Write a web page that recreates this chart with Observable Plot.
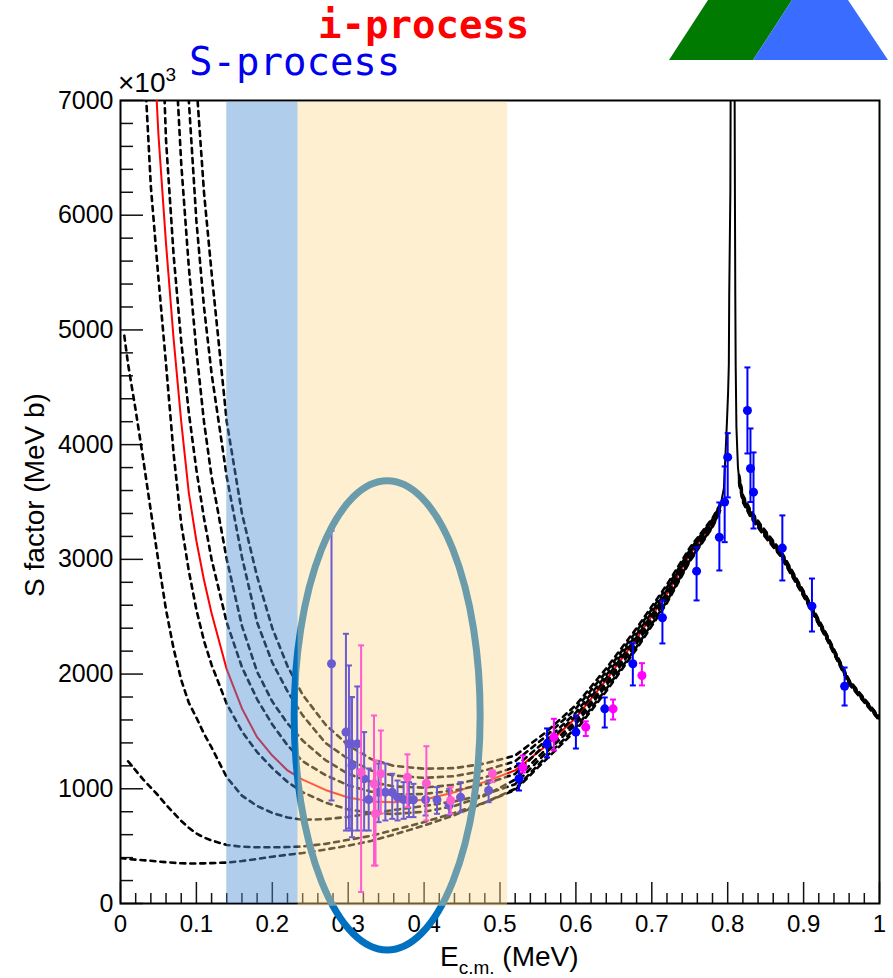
<!DOCTYPE html>
<html>
<head>
<meta charset="utf-8">
<script src="https://cdn.jsdelivr.net/npm/d3@7"></script>
<script src="https://cdn.jsdelivr.net/npm/@observablehq/plot@0.6"></script>
<style>
  body { margin: 0; background: #fff; }
  #chart svg { display: block; }
</style>
</head>
<body>
<div id="chart"></div>
<script>
// ---------- axis ticks ----------
const xMajor = [0, 0.1, 0.2, 0.3, 0.4, 0.5, 0.6, 0.7, 0.8, 0.9, 1];
const xMinor = [0.02,0.04,0.06,0.08,0.12,0.14,0.16,0.18,0.22,0.24,0.26,0.28,0.32,0.34,0.36,0.38,0.42,0.44,0.46,0.48,0.52,0.54,0.56,0.58,0.62,0.64,0.66,0.68,0.72,0.74,0.76,0.78,0.82,0.84,0.86,0.88,0.92,0.94,0.96,0.98];
const yMajor = [0, 1000, 2000, 3000, 4000, 5000, 6000, 7000];
const yMinor = [200,400,600,800,1200,1400,1600,1800,2200,2400,2600,2800,3200,3400,3600,3800,4200,4400,4600,4800,5200,5400,5600,5800,6200,6400,6600,6800];

// ---------- energy bands (MeV) ----------
const bandNames = ["S-process", "i-process"];
const bandStart = [0.14, 0.234];
const bandEnd   = [0.234, 0.51];

// ---------- fit curves: common energy grid (MeV) and S factor (x10^3 MeV b) ----------
const grid = [0, 0.005, 0.01, 0.02, 0.03, 0.04, 0.05, 0.06, 0.07, 0.08,
  0.09, 0.10, 0.11, 0.12, 0.14, 0.16, 0.18, 0.20, 0.22, 0.24,
  0.27, 0.30, 0.33, 0.36, 0.40, 0.44, 0.48, 0.52, 0.56, 0.60,
  0.64, 0.68, 0.72, 0.75, 0.78, 0.79, 0.805, 0.815, 0.82, 0.83,
  0.845, 0.87, 0.90, 0.93, 0.96, 1.0];

const curveRed = [null, null, null, null, null, 8000, 6700, 5750, 4920, 4200,
  3580, 3160, 2820, 2530, 2040, 1700, 1450, 1290, 1160, 1080,
  990, 924, 890, 882, 905, 970, 1060, 1160, 1370, 1620,
  1950, 2310, 2700, 3040, 3320, 3450, null, 3700, 3530, 3400,
  3260, 3050, 2700, 2330, 1930, 1610];

const curveD1 = [null, null, null, 10000, 7500, 6250, 5450, 4700, 3920, 3310,
  2900, 2560, 2290, 2080, 1740, 1500, 1320, 1180, 1060, 970,
  880, 820, 790, 780, 800, 850, 940, 1080, 1340, 1592,
  1925, 2287, 2680, 3025, 3310, 3442, null, 3691, 3522, 3392,
  3253, 3044, 2694, 2325, 1925, 1606];

const curveD2 = [null, null, null, null, null, null, 8500, 6650, 5650, 4900,
  4280, 3780, 3360, 3000, 2450, 2060, 1780, 1560, 1380, 1240,
  1120, 1030, 975, 950, 955, 985, 1040, 1130, 1388, 1636,
  1965, 2323, 2712, 3049, 3326, 3454, null, 3705, 3535, 3405,
  3264, 3054, 2703, 2333, 1933, 1612];

const curveD3 = [null, null, null, null, null, null, null, null, 7700, 6450,
  5550, 4820, 4200, 3720, 3000, 2420, 2020, 1760, 1570, 1420,
  1250, 1130, 1060, 1020, 1010, 1035, 1100, 1190, 1418, 1664,
  1990, 2346, 2732, 3064, 3336, 3462, null, 3714, 3542, 3412,
  3271, 3060, 2709, 2338, 1937, 1616];

const curveD4 = [null, null, null, null, null, null, null, null, null, 8500,
  7000, 5950, 5200, 4620, 3720, 3020, 2450, 2100, 1850, 1640,
  1400, 1260, 1160, 1115, 1095, 1110, 1160, 1240, 1455, 1700,
  2020, 2375, 2755, 3080, 3350, 3470, null, 3725, 3550, 3420,
  3280, 3068, 2715, 2344, 1943, 1620];

const curveD5 = [null, null, null, null, null, null, null, null, null, null,
  8300, 7150, 6200, 5500, 4200, 3400, 2850, 2400, 2070, 1820,
  1560, 1380, 1260, 1200, 1175, 1180, 1220, 1290, 1490, 1730,
  2050, 2400, 2780, 3100, 3360, 3480, null, 3735, 3560, 3430,
  3288, 3075, 2722, 2350, 1948, 1625];

const curveA = [null, 4950, 4700, 4300, 3870, 3420, 2980, 2560, 2220, 1950,
  1750, 1620, 1480, 1360, 1100, 940, 850, 790, 750, 730,
  735, 755, 785, 815, 850, 890, 950, 1040, 1310, 1565,
  1900, 2265, 2660, 3010, 3300, 3435, null, 3682, 3515, 3385,
  3246, 3037, 2689, 2320, 1921, 1602];

const curveB = [null, null, 1240, 1160, 1080, 1010, 940, 860, 790, 720,
  660, 610, 575, 550, 510, 495, 490, 490, 492, 497,
  520, 555, 590, 640, 710, 790, 880, 990, 1250, 1510,
  1850, 2220, 2620, 2980, 3280, 3420, null, 3665, 3500, 3370,
  3232, 3025, 2678, 2310, 1912, 1595];

const curveC = [395, 392, 388, 382, 377, 372, 366, 360, 355, 351,
  349, 349, 350, 352, 357, 370, 388, 408, 425, 440,
  470, 505, 545, 600, 680, 770, 880, 1000, 1274, 1532,
  1870, 2238, 2636, 2992, 3288, 3426, null, 3672, 3506, 3376,
  3238, 3030, 2682, 2314, 1916, 1598];

// resonance near 0.806 MeV (solid line)
const resX = [0.78, 0.79, 0.795, 0.797, 0.799, 0.8005, 0.8015, 0.8020, 0.8035, 0.8045, 0.8065, 0.8085, 0.8095, 0.8100, 0.8105, 0.8115, 0.8135, 0.8160, 0.820];
const resS = [3320, 3450, 3620, 3900, 4200, 4450, 4700, 5300, 6200, 8500, 40000, 8500, 6200, 5300, 4700, 4150, 3800, 3650, 3530];

// ---------- data points ----------
const blueX  = [0.278, 0.297, 0.301, 0.304, 0.305, 0.312, 0.321, 0.327, 0.340, 0.349, 0.358, 0.365, 0.373, 0.380, 0.386, 0.402, 0.417, 0.433, 0.448, 0.485, 0.525, 0.562, 0.600, 0.638, 0.675, 0.714, 0.759, 0.789, 0.796, 0.800, 0.826, 0.830, 0.834, 0.872, 0.911, 0.954];
const blueS  = [2090, 1494, 1392, 1392, 1203, 1392, 1087, 907, 970, 970, 970, 927, 907, 904, 904, 904, 904, 855, 927, 985, 1087, 1392, 1494, 1697, 2090, 2491, 2897, 3193, 3499, 3891, 4298, 3792, 3586, 3098, 2592, 1894];
const blueLo = [898, 636, 654, 636, 578, 636, 636, 636, 709, 724, 738, 724, 738, 753, 753, 767, 782, 770, 796, 883, 985, 1273, 1351, 1534, 1901, 2267, 2642, 2903, 3150, 3540, 3923, 3500, 3269, 2816, 2371, 1726];
const blueHi = [3250, 2351, 2075, 1799, 1799, 1892, 1494, 1177, 1220, 1220, 1131, 1072, 1058, 1058, 1043, 1029, 1014, 1000, 1058, 1072, 1220, 1526, 1639, 1796, 2267, 2642, 3104, 3496, 3810, 4100, 4673, 4141, 3932, 3383, 2833, 2057];

const magX  = [0.317, 0.334, 0.336, 0.343, 0.378, 0.403, 0.435, 0.490, 0.530, 0.571, 0.613, 0.649, 0.687];
const magS  = [1145, 1043, 782, 1131, 1101, 1049, 898, 1131, 1188, 1450, 1537, 1697, 1988];
const magLo = [100, 331, 331, 785, 840, 724, 782, 1058, 1142, 1334, 1460, 1604, 1901];
const magHi = [2250, 1639, 1247, 1508, 1300, 1371, 1014, 1160, 1290, 1610, 1588, 1778, 2095];

// ---------- annotation ellipse (data units) ----------
const ellipseCenterX = 0.352, ellipseCenterS = 1635, ellipseHalfX = 0.1225, ellipseHalfS = 2045;

// ---------- build tables ----------
const dashedNames = ["A", "B", "C", "D1", "D2", "D3", "D4", "D5"];
const dashedArrays = [curveA, curveB, curveC, curveD1, curveD2, curveD3, curveD4, curveD5];
const dashedRows = dashedArrays.flatMap((arr, k) => grid.map((x, i) => ({curve: dashedNames[k], x, S: arr[i]})));
const redRows = grid.map((x, i) => ({x, S: curveRed[i]}));
const resRows = resX.map((x, i) => ({x, S: resS[i]}));
const blueRows = blueX.map((x, i) => ({x, S: blueS[i], lo: blueLo[i], hi: blueHi[i]}));
const magRows = magX.map((x, i) => ({x, S: magS[i], lo: magLo[i], hi: magHi[i]}));
const bands = bandNames.map((name, i) => ({name, x1: bandStart[i], x2: bandEnd[i]}));

const cap = {draw(ctx) { ctx.moveTo(-3, 0); ctx.lineTo(3, 0); }};
const frameW = 893 - 120 - 14, frameH = 978 - 100 - 75;

const ellipseMark = (index, scales) => {
  const cx = scales.x(ellipseCenterX), cy = scales.y(ellipseCenterS);
  const rx = scales.x(ellipseCenterX + ellipseHalfX) - cx;
  const ry = cy - scales.y(ellipseCenterS + ellipseHalfS);
  const el = document.createElementNS("http://www.w3.org/2000/svg", "ellipse");
  el.setAttribute("cx", cx); el.setAttribute("cy", cy);
  el.setAttribute("rx", rx); el.setAttribute("ry", ry);
  el.setAttribute("fill", "none");
  el.setAttribute("stroke", "#0070c0");
  el.setAttribute("stroke-width", 7);
  return el;
};

const plot = Plot.plot({
  width: 893, height: 978,
  marginLeft: 120, marginRight: 14, marginTop: 100, marginBottom: 75,
  x: {domain: [0, 1]},
  y: {domain: [0, 7000]},
  style: {fontFamily: "'Liberation Sans', Arial, Helvetica, sans-serif", background: "white", color: "black"},
  marks: [
    Plot.axisY(yMajor, {tickSize: 0, tickPadding: 7, fontSize: 25, label: null, tickFormat: d => String(d)}),
    Plot.axisX(xMajor, {tickSize: 0, tickPadding: 11, fontSize: 24, label: null, tickFormat: d => String(d)}),
    Plot.ruleY(yMajor, {insetRight: frameW - 23, stroke: "#111", strokeWidth: 1.5}),
    Plot.ruleY(yMinor, {insetRight: frameW - 13, stroke: "#111", strokeWidth: 1.5}),
    Plot.ruleX(xMajor, {insetTop: frameH - 21, stroke: "#111", strokeWidth: 1.5}),
    Plot.ruleX(xMinor, {insetTop: frameH - 10, stroke: "#111", strokeWidth: 1.5}),
    Plot.frame({stroke: "black", strokeWidth: 2}),
    Plot.line(redRows, {x: "x", y: "S", stroke: "#ff0000", strokeWidth: 2, clip: true}),
    Plot.line(dashedRows, {x: "x", y: "S", z: "curve", stroke: "black", strokeWidth: 2.6, strokeDasharray: "5,5", clip: true}),
    Plot.line(resRows, {x: "x", y: "S", stroke: "black", strokeWidth: 2, clip: true}),
    Plot.ruleX(blueRows, {x: "x", y1: "lo", y2: "hi", stroke: "#0000ff", strokeWidth: 2}),
    Plot.dot(blueRows, {x: "x", y: "lo", symbol: cap, stroke: "#0000ff", strokeWidth: 2}),
    Plot.dot(blueRows, {x: "x", y: "hi", symbol: cap, stroke: "#0000ff", strokeWidth: 2}),
    Plot.dot(blueRows, {x: "x", y: "S", r: 4.5, fill: "#0000ff"}),
    Plot.ruleX(magRows, {x: "x", y1: "lo", y2: "hi", stroke: "#ff00ff", strokeWidth: 2}),
    Plot.dot(magRows, {x: "x", y: "lo", symbol: cap, stroke: "#ff00ff", strokeWidth: 2}),
    Plot.dot(magRows, {x: "x", y: "hi", symbol: cap, stroke: "#ff00ff", strokeWidth: 2}),
    Plot.dot(magRows, {x: "x", y: "S", r: 4.5, fill: "#ff00ff"}),
    Plot.rect(bands.filter(d => d.name === "S-process"), {x1: "x1", x2: "x2", y1: 0, y2: 6985, fill: "rgb(80,145,210)", fillOpacity: 0.45}),
    ellipseMark,
    Plot.rect(bands.filter(d => d.name === "i-process"), {x1: "x1", x2: "x2", y1: -25, y2: 6985, fill: "rgb(254,218,145)", fillOpacity: 0.42})
  ]
});
document.getElementById("chart").append(plot);

// ---------- annotations ----------
const svg = d3.select(plot);
const mono = "'DejaVu Sans Mono', 'Liberation Mono', monospace";
svg.append("polygon").attr("points", "669,60 708,0 792,0 753,60").attr("fill", "#007a00");
svg.append("polygon").attr("points", "753,60 792,0 848,0 888,60").attr("fill", "#3a6cff");
svg.append("text").attr("x", 318).attr("y", 38).attr("text-anchor", "start").attr("font-family", mono).attr("font-weight", "bold")
  .attr("font-size", 39).attr("fill", "#ff0000").text("i-process");
svg.append("text").attr("x", 189).attr("y", 75).attr("text-anchor", "start").attr("font-family", mono)
  .attr("font-size", 39).attr("fill", "#0000ee").text("S-process");
const mult = svg.append("text").attr("x", 118).attr("y", 92).attr("text-anchor", "start").attr("font-size", 28).attr("fill", "black");
mult.append("tspan").text("×10");
mult.append("tspan").attr("font-size", 19).attr("dy", -11).text("3");
svg.append("text").attr("transform", "translate(44,495) rotate(-90)").attr("text-anchor", "middle")
  .attr("font-size", 28).attr("fill", "black").text("S factor (MeV b)");
const xt = svg.append("text").attr("x", 440).attr("y", 966).attr("text-anchor", "start").attr("font-size", 28).attr("fill", "black");
xt.append("tspan").text("E");
xt.append("tspan").attr("font-size", 19).attr("dy", 8).text("c.m.");
xt.append("tspan").attr("dy", -8).text(" (MeV)");
</script>
</body>
</html>
